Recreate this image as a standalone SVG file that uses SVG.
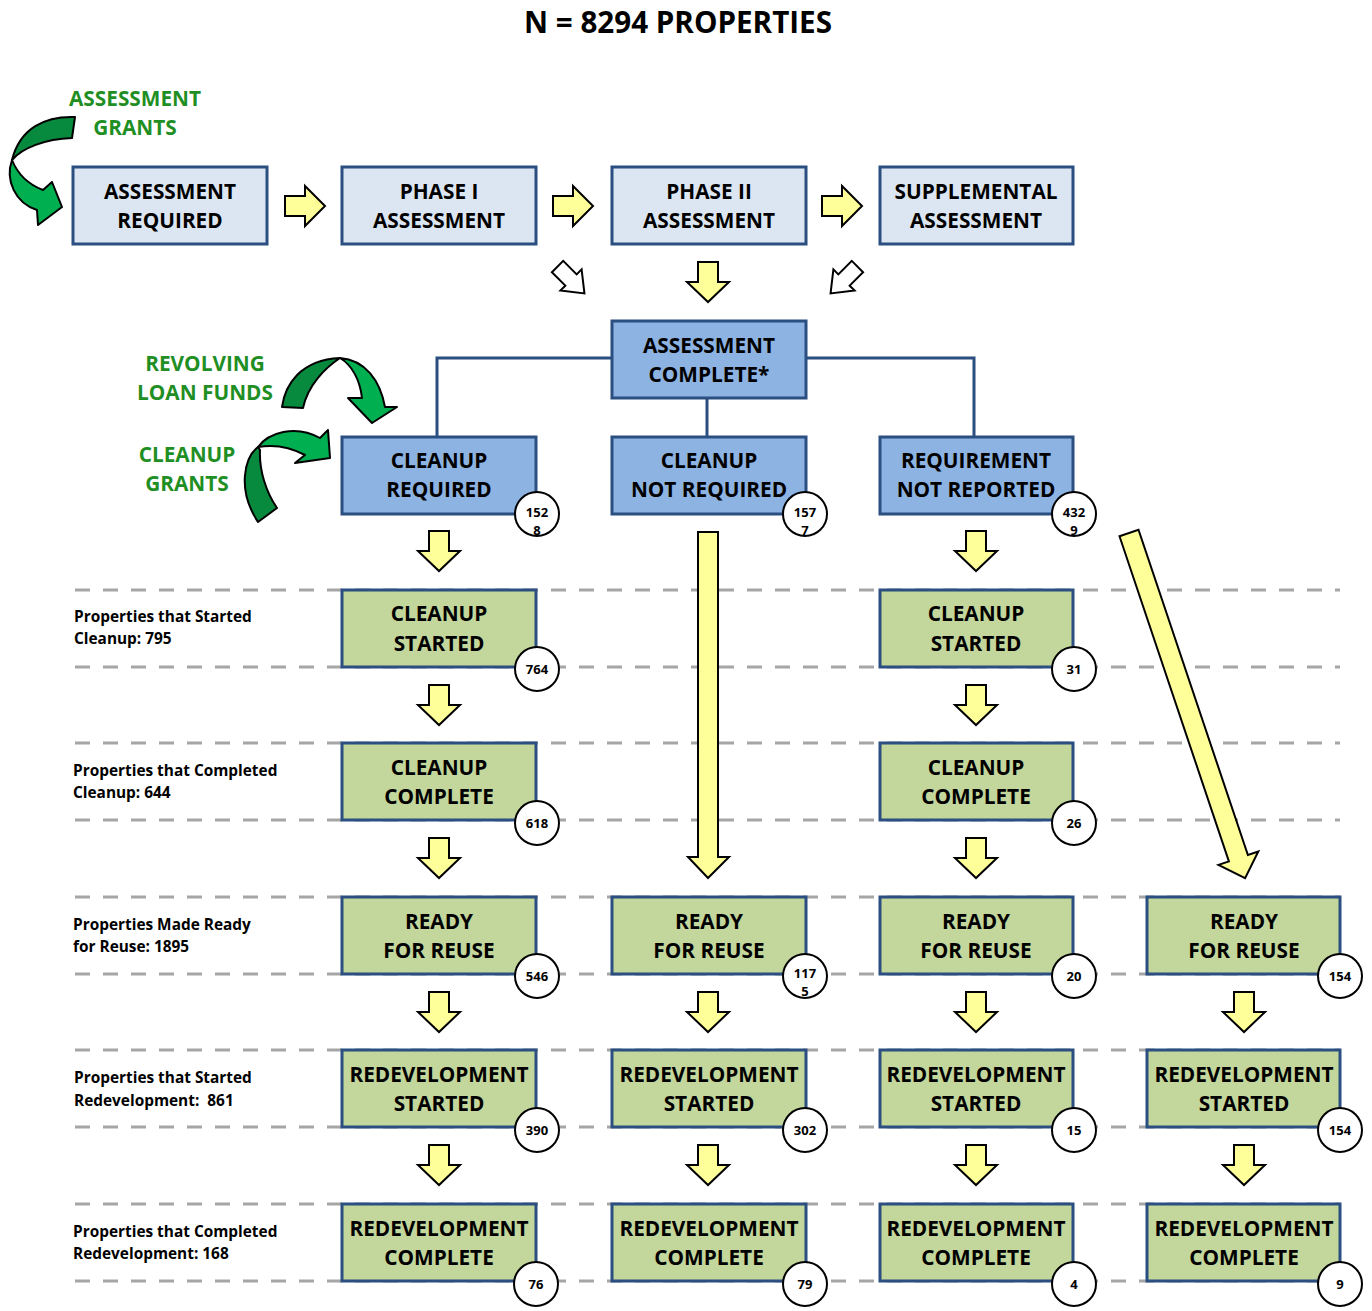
<svg xmlns="http://www.w3.org/2000/svg" width="1372" height="1311" viewBox="0 0 1372 1311">
<style>
text{font-family:"Open Sans","Liberation Sans",sans-serif;font-weight:bold;fill:#000}
.bt{font-size:20.8px;text-anchor:middle}
.gl{font-size:20.8px;text-anchor:middle;fill:#1f8f24}
.lab{font-size:15.4px;white-space:pre}
.ct{font-size:13px;text-anchor:middle}
.b1{fill:#dce6f2;stroke:#2a4f80;stroke-width:3}
.b2{fill:#8db3e2;stroke:#2a4f80;stroke-width:3}
.b3{fill:#c3d69b;stroke:#2a4f80;stroke-width:3}
.circ{fill:#fff;stroke:#000;stroke-width:2}
.dash{stroke:#a6a6a6;stroke-width:3;stroke-dasharray:15 13;fill:none}
.conn{stroke:#2a4f80;stroke-width:3;fill:none}
.ya{fill:#ffff99;stroke:#000;stroke-width:2;stroke-linejoin:miter}
.wa{fill:#fff;stroke:#000;stroke-width:2}
.gd{fill:#078a3e;stroke:#000;stroke-width:2;stroke-linejoin:round}
.gb{fill:#00b050;stroke:#000;stroke-width:2;stroke-linejoin:round}
</style>
<defs>
<path id="down" class="ya" d="M-10,-20 H10 V0 H21 L0,20 L-21,0 H-10 Z"/>
<path id="right" class="ya" d="M-20,-10 V10 H0 V20 L20,0 L0,-20 V-10 Z"/>
<path id="wdown" class="wa" d="M-8,-19 H8 V0 H15 L0,19 L-15,0 H-8 Z"/>
</defs>
<rect width="1372" height="1311" fill="#fff"/>
<text x="678" y="33" style="font-size:29.6px;text-anchor:middle">N = 8294 PROPERTIES</text>

<g id="dashed-rows">
<path class="dash" d="M75,590 H1340 M75,667 H1340 M75,743 H1340 M75,820 H1340 M75,897 H1340 M75,974 H1340 M75,1050 H1340 M75,1127 H1340 M75,1204 H1340 M75,1281 H1340"/>
</g>

<g id="row-labels">
<text class="lab" x="74" y="622">Properties that Started</text>
<text class="lab" x="74" y="644">Cleanup: 795</text>
<text class="lab" x="73" y="776">Properties that Completed</text>
<text class="lab" x="73" y="798">Cleanup: 644</text>
<text class="lab" x="73" y="930">Properties Made Ready</text>
<text class="lab" x="73" y="952">for Reuse: 1895</text>
<text class="lab" x="74" y="1083">Properties that Started</text>
<text class="lab" x="74" y="1106" xml:space="preserve">Redevelopment:  861</text>
<text class="lab" x="73" y="1237">Properties that Completed</text>
<text class="lab" x="73" y="1259">Redevelopment: 168</text>
</g>

<g id="funding">
<text class="gl" x="135" y="106">ASSESSMENT</text>
<text class="gl" x="135" y="135">GRANTS</text>
<text class="gl" x="205" y="371">REVOLVING</text>
<text class="gl" x="205" y="400">LOAN FUNDS</text>
<text class="gl" x="187" y="462">CLEANUP</text>
<text class="gl" x="187" y="491">GRANTS</text>
<path class="gd" d="M75,117 C45,116 20,128 12,160 C22,148 45,139 72,138 Z"/>
<path class="gb" d="M12,160 C5,180 15,203 37,210 L38,225 L62,207 L52,182 L43,190 C30,185 18,175 12,160 Z"/>
<path class="gd" d="M282,407 C285,385 300,360 340,358 C325,368 308,385 303,408 Z"/>
<path class="gb" d="M340,358 C365,360 380,380 385,407 L397,407 L372,423 L348,398 L362,398 C360,380 352,365 340,358 Z"/>
<path class="gb" d="M258,447 C268,433 295,424 320,438 L328,430 L330,458 L295,463 L305,455 C292,448 275,444 258,447 Z"/>
<path class="gd" d="M258,447 C244,458 237,490 258,522 L277,508 C266,492 259,470 260,450 Z"/>
</g>

<g id="connectors">
<path class="conn" d="M612,358 H437 V437"/>
<path class="conn" d="M806,358 H974 V437"/>
<path class="conn" d="M707,398 V437"/>
<use href="#right" x="305" y="206"/>
<use href="#right" x="573" y="206"/>
<use href="#right" x="842" y="206"/>
<use href="#wdown" transform="translate(571,280) rotate(-45)"/>
<use href="#down" x="708" y="282"/>
<use href="#wdown" transform="translate(844,280) rotate(45)"/>
<use href="#down" x="439" y="551"/>
<use href="#down" x="976" y="551"/>
<path class="ya" d="M698,532 H718 V857 H729 L708,878 L688,857 H698 Z"/>
<path class="ya" d="M1119.5,536.2 L1138.5,529.8 L1247.9,855 L1258.3,851.5 L1245.1,878.1 L1218.5,864.9 L1228.9,861.4 Z"/>
<use href="#down" x="439" y="705"/>
<use href="#down" x="976" y="705"/>
<use href="#down" x="439" y="858"/>
<use href="#down" x="976" y="858"/>
<use href="#down" x="439" y="1012"/>
<use href="#down" x="708" y="1012"/>
<use href="#down" x="976" y="1012"/>
<use href="#down" x="1244" y="1012"/>
<use href="#down" x="439" y="1165"/>
<use href="#down" x="708" y="1165"/>
<use href="#down" x="976" y="1165"/>
<use href="#down" x="1244" y="1165"/>
</g>

<g id="n-assessment-required"><rect class="b1" x="73" y="167" width="194" height="77"/><text class="bt" x="170" y="199">ASSESSMENT</text><text class="bt" x="170" y="228">REQUIRED</text></g>
<g id="n-phase1"><rect class="b1" x="342" y="167" width="194" height="77"/><text class="bt" x="439" y="199">PHASE I</text><text class="bt" x="439" y="228">ASSESSMENT</text></g>
<g id="n-phase2"><rect class="b1" x="612" y="167" width="194" height="77"/><text class="bt" x="709" y="199">PHASE II</text><text class="bt" x="709" y="228">ASSESSMENT</text></g>
<g id="n-supplemental"><rect class="b1" x="880" y="167" width="193" height="77"/><text class="bt" x="976" y="199">SUPPLEMENTAL</text><text class="bt" x="976" y="228">ASSESSMENT</text></g>
<g id="n-assessment-complete"><rect class="b2" x="612" y="321" width="194" height="77"/><text class="bt" x="709" y="353">ASSESSMENT</text><text class="bt" x="709" y="382">COMPLETE*</text></g>

<g id="n-cleanup-required"><rect class="b2" x="342" y="437" width="194" height="77"/><text class="bt" x="439" y="468">CLEANUP</text><text class="bt" x="439" y="497">REQUIRED</text><circle class="circ" cx="537" cy="514" r="22"/><text class="ct" x="537" y="517">152</text><text class="ct" x="537" y="535">8</text></g>
<g id="n-cleanup-not-required"><rect class="b2" x="612" y="437" width="194" height="77"/><text class="bt" x="709" y="468">CLEANUP</text><text class="bt" x="709" y="497">NOT REQUIRED</text><circle class="circ" cx="805" cy="514" r="22"/><text class="ct" x="805" y="517">157</text><text class="ct" x="805" y="535">7</text></g>
<g id="n-requirement-not-reported"><rect class="b2" x="880" y="437" width="193" height="77"/><text class="bt" x="976" y="468">REQUIREMENT</text><text class="bt" x="976" y="497">NOT REPORTED</text><circle class="circ" cx="1074" cy="514" r="22"/><text class="ct" x="1074" y="517">432</text><text class="ct" x="1074" y="535">9</text></g>

<g id="n-c1-cleanup-started"><rect class="b3" x="342" y="590" width="194" height="77"/><text class="bt" x="439" y="621">CLEANUP</text><text class="bt" x="439" y="651">STARTED</text><circle class="circ" cx="537" cy="669" r="22"/><text class="ct" x="537" y="674">764</text></g>
<g id="n-c3-cleanup-started"><rect class="b3" x="880" y="590" width="193" height="77"/><text class="bt" x="976" y="621">CLEANUP</text><text class="bt" x="976" y="651">STARTED</text><circle class="circ" cx="1074" cy="669" r="22"/><text class="ct" x="1074" y="674">31</text></g>

<g id="n-c1-cleanup-complete"><rect class="b3" x="342" y="743" width="194" height="77"/><text class="bt" x="439" y="775">CLEANUP</text><text class="bt" x="439" y="804">COMPLETE</text><circle class="circ" cx="537" cy="823" r="22"/><text class="ct" x="537" y="828">618</text></g>
<g id="n-c3-cleanup-complete"><rect class="b3" x="880" y="743" width="193" height="77"/><text class="bt" x="976" y="775">CLEANUP</text><text class="bt" x="976" y="804">COMPLETE</text><circle class="circ" cx="1074" cy="823" r="22"/><text class="ct" x="1074" y="828">26</text></g>

<g id="n-c1-ready"><rect class="b3" x="342" y="897" width="194" height="77"/><text class="bt" x="439" y="929">READY</text><text class="bt" x="439" y="958">FOR REUSE</text><circle class="circ" cx="537" cy="976" r="22"/><text class="ct" x="537" y="981">546</text></g>
<g id="n-c2-ready"><rect class="b3" x="612" y="897" width="194" height="77"/><text class="bt" x="709" y="929">READY</text><text class="bt" x="709" y="958">FOR REUSE</text><circle class="circ" cx="805" cy="976" r="22"/><text class="ct" x="805" y="978">117</text><text class="ct" x="805" y="996">5</text></g>
<g id="n-c3-ready"><rect class="b3" x="880" y="897" width="193" height="77"/><text class="bt" x="976" y="929">READY</text><text class="bt" x="976" y="958">FOR REUSE</text><circle class="circ" cx="1074" cy="976" r="22"/><text class="ct" x="1074" y="981">20</text></g>
<g id="n-c4-ready"><rect class="b3" x="1147" y="897" width="193" height="77"/><text class="bt" x="1244" y="929">READY</text><text class="bt" x="1244" y="958">FOR REUSE</text><circle class="circ" cx="1340" cy="976" r="22"/><text class="ct" x="1340" y="981">154</text></g>

<g id="n-c1-redev-started"><rect class="b3" x="342" y="1050" width="194" height="77"/><text class="bt" x="439" y="1082">REDEVELOPMENT</text><text class="bt" x="439" y="1111">STARTED</text><circle class="circ" cx="537" cy="1130" r="22"/><text class="ct" x="537" y="1135">390</text></g>
<g id="n-c2-redev-started"><rect class="b3" x="612" y="1050" width="194" height="77"/><text class="bt" x="709" y="1082">REDEVELOPMENT</text><text class="bt" x="709" y="1111">STARTED</text><circle class="circ" cx="805" cy="1130" r="22"/><text class="ct" x="805" y="1135">302</text></g>
<g id="n-c3-redev-started"><rect class="b3" x="880" y="1050" width="193" height="77"/><text class="bt" x="976" y="1082">REDEVELOPMENT</text><text class="bt" x="976" y="1111">STARTED</text><circle class="circ" cx="1074" cy="1130" r="22"/><text class="ct" x="1074" y="1135">15</text></g>
<g id="n-c4-redev-started"><rect class="b3" x="1147" y="1050" width="193" height="77"/><text class="bt" x="1244" y="1082">REDEVELOPMENT</text><text class="bt" x="1244" y="1111">STARTED</text><circle class="circ" cx="1340" cy="1130" r="22"/><text class="ct" x="1340" y="1135">154</text></g>

<g id="n-c1-redev-complete"><rect class="b3" x="342" y="1204" width="194" height="77"/><text class="bt" x="439" y="1236">REDEVELOPMENT</text><text class="bt" x="439" y="1265">COMPLETE</text><circle class="circ" cx="536" cy="1284" r="22"/><text class="ct" x="536" y="1289">76</text></g>
<g id="n-c2-redev-complete"><rect class="b3" x="612" y="1204" width="194" height="77"/><text class="bt" x="709" y="1236">REDEVELOPMENT</text><text class="bt" x="709" y="1265">COMPLETE</text><circle class="circ" cx="805" cy="1284" r="22"/><text class="ct" x="805" y="1289">79</text></g>
<g id="n-c3-redev-complete"><rect class="b3" x="880" y="1204" width="193" height="77"/><text class="bt" x="976" y="1236">REDEVELOPMENT</text><text class="bt" x="976" y="1265">COMPLETE</text><circle class="circ" cx="1074" cy="1284" r="22"/><text class="ct" x="1074" y="1289">4</text></g>
<g id="n-c4-redev-complete"><rect class="b3" x="1147" y="1204" width="193" height="77"/><text class="bt" x="1244" y="1236">REDEVELOPMENT</text><text class="bt" x="1244" y="1265">COMPLETE</text><circle class="circ" cx="1340" cy="1284" r="22"/><text class="ct" x="1340" y="1289">9</text></g>
</svg>
